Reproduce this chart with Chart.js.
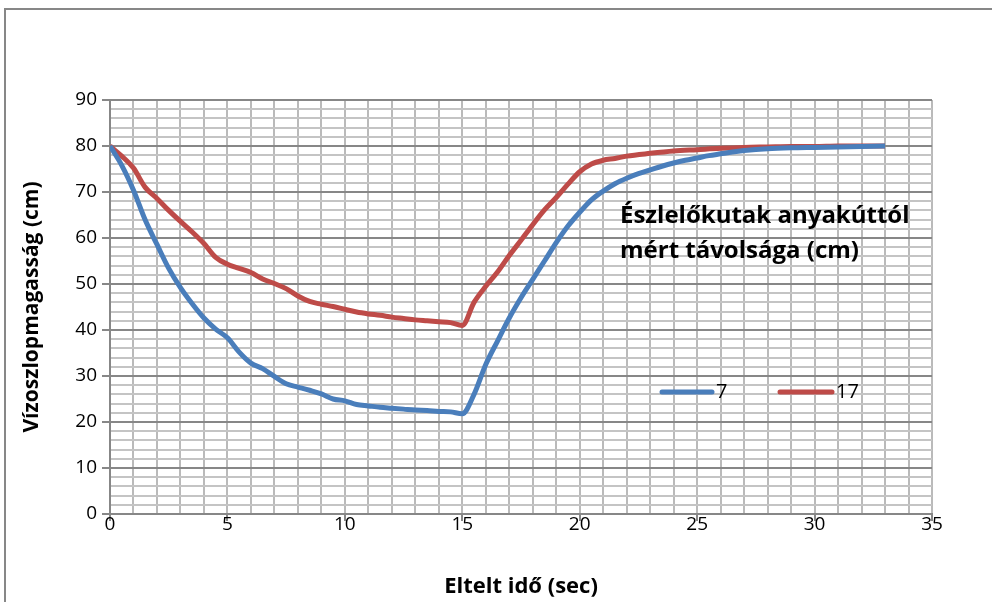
<!DOCTYPE html>
<html>
<head>
<meta charset="utf-8">
<script src="https://cdn.jsdelivr.net/npm/chart.js@4/dist/chart.umd.min.js"></script>
<style>
  html, body { margin: 0; padding: 0; background: #fff; }
  #wrap { position: relative; width: 992px; height: 602px; }
</style>
</head>
<body>
<div id="wrap"><canvas id="c" width="992" height="602"></canvas></div>
<script>
// Elapsed time (sec) and water column height (cm) for each observation well
const times7 = [0, 0.5, 1, 1.5, 2, 2.5, 3, 3.5, 4, 4.5, 5, 5.5, 6, 6.5, 7, 7.5, 8, 8.5, 9, 9.5, 10, 10.5, 11, 11.5, 12, 12.5, 13, 13.5, 14, 14.5, 15, 15.5, 16, 16.5, 17, 17.5, 18, 18.5, 19, 19.5, 20, 20.5, 21, 21.5, 22, 22.5, 23, 23.5, 24, 24.5, 25, 25.5, 26, 26.5, 27, 28, 29, 30, 31, 32, 33];
const heights7 = [80, 75.8, 70.4, 63.9, 58.6, 53.4, 49.2, 45.7, 42.6, 40.2, 38.3, 35.2, 32.8, 31.6, 29.9, 28.3, 27.6, 26.9, 26.1, 25.0, 24.6, 23.8, 23.5, 23.2, 23.0, 22.8, 22.6, 22.5, 22.3, 22.2, 21.8, 26.0, 32.5, 37.6, 42.6, 47.0, 51.0, 55.0, 59.0, 62.6, 65.6, 68.3, 70.2, 71.8, 73.0, 74.0, 74.8, 75.6, 76.3, 76.9, 77.4, 77.9, 78.3, 78.7, 79.0, 79.4, 79.6, 79.7, 79.8, 79.9, 80];

const times17 = [0, 0.5, 1, 1.5, 2, 2.5, 3, 3.5, 4, 4.5, 5, 5.5, 6, 6.5, 7, 7.5, 8, 8.5, 9, 9.5, 10, 10.5, 11, 11.5, 12, 12.5, 13, 13.5, 14, 14.5, 15, 15.5, 16, 16.5, 17, 17.5, 18, 18.5, 19, 19.5, 20, 20.5, 21, 21.5, 22, 23, 24, 25, 26, 27, 28, 29, 30, 31, 32, 33];
const heights17 = [80, 77.8, 75.2, 71.0, 68.6, 66.0, 63.6, 61.3, 58.8, 55.8, 54.3, 53.4, 52.5, 51.1, 50.1, 49.0, 47.4, 46.2, 45.6, 45.1, 44.5, 43.9, 43.5, 43.2, 42.8, 42.5, 42.2, 42.0, 41.8, 41.6, 41.0, 46.0, 49.5, 52.6, 56.2, 59.5, 62.9, 66.1, 68.8, 71.7, 74.4, 76.1, 76.9, 77.3, 77.8, 78.4, 78.9, 79.2, 79.5, 79.7, 79.8, 79.9, 79.9, 80, 80, 80];

const seriesNames = ['7', '17'];
const legendTitle = ['Észlelőkutak anyakúttól', 'mért távolsága (cm)'];
const xTitle = 'Eltelt idő (sec)';
const yTitle = 'Vízoszlopmagasság (cm)';

const FONT = '"Open Sans", Lato, "DejaVu Sans", sans-serif';
const MAJOR = '#878787';
const MINOR_H = '#c4c4c4';
const MINOR_V = '#bababa';

function toPoints(xs, ys) { return xs.map((x, i) => ({ x: x, y: ys[i] })); }

// Outer chart frame (left and top edges)
const framePlugin = {
  id: 'frame',
  beforeDraw(chart) {
    const ctx = chart.ctx;
    ctx.save();
    ctx.strokeStyle = '#878787';
    ctx.lineWidth = 2;
    ctx.beginPath();
    ctx.moveTo(5, 602);
    ctx.lineTo(5, 9);
    ctx.lineTo(992, 9);
    ctx.stroke();
    ctx.restore();
  }
};

// Legend with a two-line title, placed inside the plot area
const innerLegend = {
  id: 'innerLegend',
  afterDraw(chart) {
    const ctx = chart.ctx;
    ctx.save();
    ctx.fillStyle = '#000';
    ctx.textBaseline = 'middle';
    ctx.textAlign = 'left';
    ctx.font = 'bold 24px ' + FONT;
    ctx.fillText(legendTitle[0], 620, 216);
    ctx.fillText(legendTitle[1], 620, 251);
    const items = [{ x0: 662, x1: 712, tx: 716 }, { x0: 780, x1: 832, tx: 836 }];
    ctx.font = '20px ' + FONT;
    chart.data.datasets.forEach((ds, i) => {
      const it = items[i];
      ctx.strokeStyle = ds.borderColor;
      ctx.lineWidth = 5;
      ctx.lineCap = 'round';
      ctx.beginPath();
      ctx.moveTo(it.x0, 392);
      ctx.lineTo(it.x1, 392);
      ctx.stroke();
      ctx.fillStyle = '#000';
      ctx.fillText(ds.label, it.tx, 392);
    });
    ctx.restore();
  }
};

new Chart(document.getElementById('c'), {
  type: 'line',
  data: {
    datasets: [
      {
        label: seriesNames[0],
        data: toPoints(times7, heights7),
        borderColor: '#4a7ebb',
        borderWidth: 5,
        pointRadius: 0,
        cubicInterpolationMode: 'monotone',
        fill: false
      },
      {
        label: seriesNames[1],
        data: toPoints(times17, heights17),
        borderColor: '#be4b48',
        borderWidth: 5,
        pointRadius: 0,
        cubicInterpolationMode: 'monotone',
        fill: false
      }
    ]
  },
  options: {
    responsive: false,
    animation: false,
    layout: { padding: { left: 0, top: 100, right: 60, bottom: 0 } },
    plugins: {
      legend: { display: false },
      tooltip: { enabled: false }
    },
    scales: {
      x: {
        type: 'linear',
        min: 0,
        max: 35,
        afterFit(scale) { scale.height = 88; },
        ticks: {
          stepSize: 1,
          autoSkip: false,
          maxRotation: 0,
          padding: -8,
          color: '#000',
          font: { family: FONT, size: 19 },
          callback: (v) => (v % 5 === 0 ? String(v) : '')
        },
        grid: {
          color: MINOR_V,
          lineWidth: 2,
          tickLength: 7,
          tickColor: (c) => (c.tick && c.tick.value % 5 === 0 ? MAJOR : 'rgba(0,0,0,0)')
        },
        border: { color: MAJOR, width: 2 },
        title: {
          display: true,
          text: xTitle,
          color: '#000',
          font: { family: FONT, size: 22, weight: 'bold' },
          padding: { top: 0, bottom: 2 }
        }
      },
      y: {
        min: 0,
        max: 90,
        afterFit(scale) { scale.width = 110; },
        ticks: {
          stepSize: 2,
          autoSkip: false,
          padding: 5,
          color: '#000',
          font: { family: FONT, size: 19 },
          callback: (v) => (v % 10 === 0 ? String(v) : '')
        },
        grid: {
          color: (c) => (c.tick && c.tick.value % 10 === 0 ? MAJOR : MINOR_H),
          lineWidth: 2,
          tickLength: 8,
          tickColor: (c) => (c.tick && c.tick.value % 10 === 0 ? MAJOR : 'rgba(0,0,0,0)')
        },
        border: { color: MAJOR, width: 2 },
        title: {
          display: true,
          text: yTitle,
          color: '#000',
          font: { family: FONT, size: 21, weight: 'bold' },
          padding: { top: 19, bottom: 0 }
        }
      }
    }
  },
  plugins: [framePlugin, innerLegend]
});
</script>
</body>
</html>
